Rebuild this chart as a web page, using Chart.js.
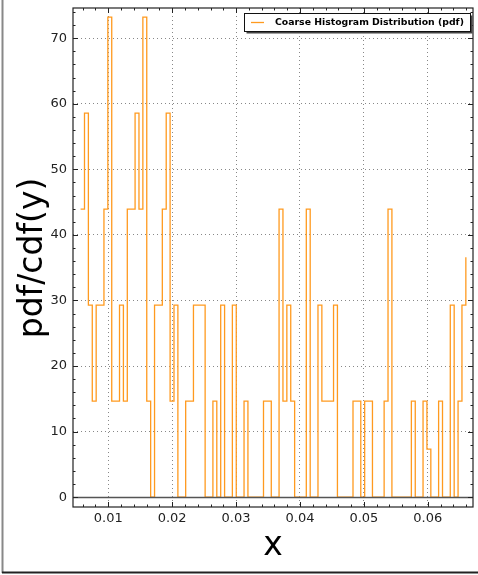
<!DOCTYPE html>
<html>
<head>
<meta charset="utf-8">
<script src="https://cdn.jsdelivr.net/npm/chart.js@4.4.0/dist/chart.umd.min.js"></script>
<style>
  html, body { margin: 0; padding: 0; background: #fff; }
</style>
</head>
<body>
<canvas id="chart" width="478" height="575"></canvas>
<script>
// histogram bins (left edge of first step, spacing between steps)
const binStart = 0.00567;
const binWidth = 0.000609;
// pdf value of each step
const pdfValues = [
  43.92, 58.56, 29.28, 14.64, 29.28, 29.28, 43.92, 73.2, 14.64, 14.64,
  29.28, 14.64, 43.92, 43.92, 58.56, 43.92, 73.2, 14.64, 0, 29.28,
  29.28, 43.92, 58.56, 14.64, 29.28, 0, 0, 14.64, 14.64, 29.28,
  29.28, 29.28, 0, 0, 14.64, 0, 29.28, 0, 0, 29.28,
  0, 0, 14.64, 0, 0, 0, 0, 14.64, 14.64, 0,
  0, 43.92, 14.64, 29.28, 14.64, 0, 0, 0, 43.92, 0,
  0, 29.28, 14.64, 14.64, 14.64, 29.28, 0, 0, 0, 0,
  14.64, 14.64, 0, 14.64, 14.64, 0, 0, 0, 14.64, 43.92,
  0, 0, 0, 0, 0, 14.64, 0, 0, 14.64, 7.32,
  0, 0, 14.64, 0, 0, 29.28, 0, 14.64, 29.28, 36.6
];
const xTicks = [0.01, 0.02, 0.03, 0.04, 0.05, 0.06];
const yTicks = [0, 10, 20, 30, 40, 50, 60, 70];
const xMinorStep = 0.002;
const yMinorStep = 2;
const seriesLabel = 'Coarse Histogram Distribution (pdf)';
const xTitle = 'x';
const yTitle = 'pdf/cdf(y)';

const points = pdfValues.map((v, i) => ({ x: binStart + i * binWidth, y: v }));

const lineColor = '#ff9a1f';

// frame, minor ticks, zero line, legend, titles
const decor = {
  id: 'decor',
  beforeDraw(chart) {
    const c = chart.ctx;
    c.save();
    c.fillStyle = '#fff';
    c.fillRect(0, 0, chart.width, chart.height);
    c.restore();
  },
  afterDatasetsDraw(chart) {
    const c = chart.ctx, a = chart.chartArea, y = chart.scales.y;
    const zy = Math.round(y.getPixelForValue(0)) + 0.5;
    c.save();
    c.strokeStyle = '#555';
    c.lineWidth = 1.5;
    c.beginPath();
    c.moveTo(a.left, zy);
    c.lineTo(a.right, zy);
    c.stroke();
    c.restore();
  },
  afterDraw(chart) {
    const c = chart.ctx, a = chart.chartArea;
    const xs = chart.scales.x, ys = chart.scales.y;
    c.save();
    // axes frame
    c.strokeStyle = '#222';
    c.lineWidth = 1.2;
    c.strokeRect(a.left, a.top, a.right - a.left, a.bottom - a.top);

    // ticks on all four sides, pointing in
    c.lineWidth = 1;
    c.beginPath();
    for (let v = Math.ceil(xs.min / xMinorStep) * xMinorStep; v <= xs.max; v += xMinorStep) {
      const px = Math.round(xs.getPixelForValue(v)) + 0.5;
      const major = xTicks.some(t => Math.abs(t - v) < 1e-9);
      const len = major ? 5 : 2.5;
      c.moveTo(px, a.bottom); c.lineTo(px, a.bottom - len);
      c.moveTo(px, a.top); c.lineTo(px, a.top + len);
    }
    for (let v = Math.ceil(ys.min / yMinorStep) * yMinorStep; v <= ys.max; v += yMinorStep) {
      const py = Math.round(ys.getPixelForValue(v)) + 0.5;
      const major = yTicks.includes(Math.round(v));
      const len = major ? 5 : 2.5;
      c.moveTo(a.left, py); c.lineTo(a.left + len, py);
      c.moveTo(a.right, py); c.lineTo(a.right - len, py);
    }
    c.stroke();

    // legend box with shadow
    const bx = 244.5, by = 13.5, bw = 226, bh = 18;
    c.fillStyle = '#444';
    c.fillRect(bx + 2, by + 2, bw, bh);
    c.fillStyle = '#fff';
    c.fillRect(bx, by, bw, bh);
    c.strokeStyle = '#111';
    c.lineWidth = 1;
    c.strokeRect(bx, by, bw, bh);
    c.strokeStyle = lineColor;
    c.lineWidth = 1.3;
    c.beginPath();
    c.moveTo(251, 22.5); c.lineTo(264, 22.5);
    c.stroke();
    c.fillStyle = '#000';
    c.font = 'bold 9px "DejaVu Sans"';
    const w = c.measureText(seriesLabel).width;
    const size = 9 * 189 / w;
    c.font = 'bold ' + size.toFixed(2) + 'px "DejaVu Sans"';
    c.textBaseline = 'middle';
    c.textAlign = 'left';
    c.fillText(seriesLabel, 275, 23);

    // axis titles
    c.fillStyle = '#000';
    c.font = '33px "DejaVu Sans"';
    c.textAlign = 'center';
    c.textBaseline = 'middle';
    c.fillText(xTitle, (a.left + a.right) / 2, 546);
    c.translate(33, 258);
    c.rotate(-Math.PI / 2);
    c.fillText(yTitle, 0, 0);
    c.restore();

    // figure border (left and bottom)
    c.save();
    c.strokeStyle = '#888';
    c.lineWidth = 2;
    c.beginPath();
    c.moveTo(2.5, 0); c.lineTo(2.5, 573);
    c.stroke();
    c.strokeStyle = '#222';
    c.beginPath();
    c.moveTo(2, 572.5); c.lineTo(478, 572.5);
    c.stroke();
    c.restore();
  }
};

new Chart(document.getElementById('chart'), {
  type: 'line',
  data: {
    datasets: [{
      label: seriesLabel,
      data: points,
      stepped: true,
      borderColor: lineColor,
      borderWidth: 1.3,
      pointRadius: 0,
      fill: false,
    }]
  },
  options: {
    responsive: false,
    animation: false,
    devicePixelRatio: 1,
    layout: { padding: { left: 0, top: 8, right: 5, bottom: 0 } },
    plugins: { legend: { display: false }, tooltip: { enabled: false } },
    scales: {
      x: {
        type: 'linear',
        min: 0.00448,
        max: 0.06708,
        afterBuildTicks: (s) => { s.ticks = xTicks.map(v => ({ value: v })); },
        afterFit: (s) => { s.height = 68; s.paddingLeft = 0; s.paddingRight = 0; },
        ticks: {
          callback: (v) => v.toFixed(2),
          color: '#222',
          font: { family: 'DejaVu Sans', size: 13 },
          padding: 4,
          maxRotation: 0,
        },
        grid: { color: '#888', lineWidth: 1, drawTicks: false },
        border: { display: false, dash: [1, 3] },
      },
      y: {
        type: 'linear',
        min: -1.5,
        max: 74.6,
        afterBuildTicks: (s) => { s.ticks = yTicks.map(v => ({ value: v })); },
        afterFit: (s) => { s.width = 73; s.paddingTop = 0; s.paddingBottom = 0; },
        ticks: {
          color: '#222',
          font: { family: 'DejaVu Sans', size: 13 },
          padding: 6,
        },
        grid: { color: '#888', lineWidth: 1, drawTicks: false },
        border: { display: false, dash: [1, 3] },
      }
    }
  },
  plugins: [decor]
});
</script>
</body>
</html>
